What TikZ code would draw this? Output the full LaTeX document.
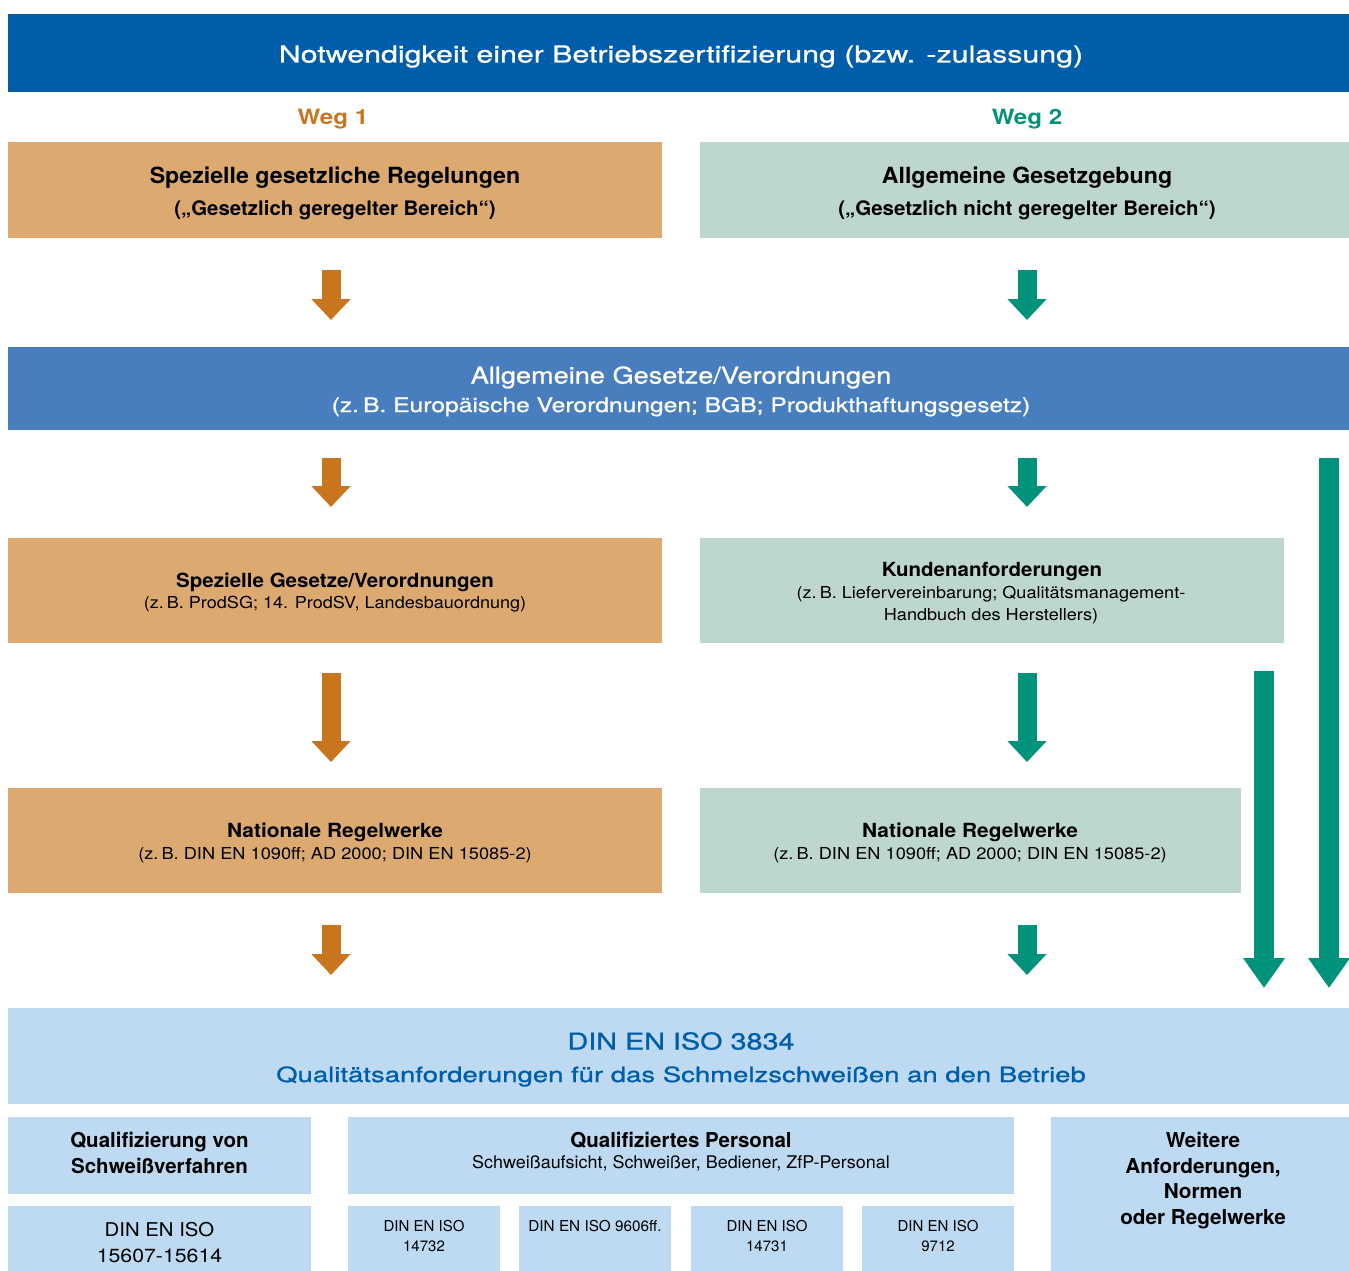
\documentclass[tikz,border=0pt]{standalone}
\usepackage{fontspec}
\usepackage{graphicx}
\setmainfont{TeX Gyre Heros}
\newfontfamily\medfont[FakeBold=0.8]{TeX Gyre Heros}
\usetikzlibrary{arrows.meta}
\definecolor{cTitle}{RGB}{0,93,169}
\definecolor{cOrange}{RGB}{200,117,30}
\definecolor{cOrangeBox}{RGB}{220,170,113}
\definecolor{cGreen}{RGB}{0,146,122}
\definecolor{cGreenBox}{RGB}{190,214,208}
\definecolor{cMid}{RGB}{72,125,190}
\definecolor{cLight}{RGB}{189,218,242}
\definecolor{cDin}{RGB}{0,94,168}
\newcommand{\hs}[2]{\scalebox{#1}[1]{#2}}
\newcommand{\fsz}[1]{\fontsize{#1}{#1}\selectfont}
\begin{document}
\begin{tikzpicture}[x=1pt,y=-1pt,
  box/.style={draw=none,inner sep=0pt,outer sep=0pt,anchor=north west},
  txt/.style={anchor=base,inner sep=0pt,outer sep=0pt,align=center},
  oarrow/.style={draw=cOrange,line width=19pt,-{Triangle[width=38pt,length=21pt]}},
  garrow/.style={draw=cGreen,line width=19pt,-{Triangle[width=38pt,length=21pt]}},
  larrow/.style={draw=cGreen,line width=20pt,-{Triangle[width=40pt,length=30pt]}}
]
\useasboundingbox (0,0) rectangle (1349,1271);
\fill[white] (0,0) rectangle (1349,1271);

% title
\node[box,fill=cTitle,minimum width=1341pt,minimum height=78pt] (T) at (8,14) {};
\node[txt,text=white,font=\medfont\fsz{23.5}] (Tt) at (681,62.5) {\hs{1.29}{Notwendigkeit einer Betriebszertifizierung (bzw. -zulassung)}};
\node[txt,text=cOrange,font=\fsz{21}\bfseries] (W1) at (333,124.5) {\hs{1.15}{Weg 1}};
\node[txt,text=cGreen,font=\fsz{21}\bfseries] (W2) at (1027,124.5) {\hs{1.15}{Weg 2}};

% row 1
\node[box,fill=cOrangeBox,minimum width=654pt,minimum height=96pt] (A1) at (8,142) {};
\node[txt,font=\fsz{22.3}\bfseries] (A1a) at (335,183) {\hs{1.04}{Spezielle gesetzliche Regelungen}};
\node[txt,font=\fsz{20}\bfseries] (A1b) at (335,215) {\hs{1.02}{(„Gesetzlich geregelter Bereich“)}};
\node[box,fill=cGreenBox,minimum width=649pt,minimum height=96pt] (B1) at (700,142) {};
\node[txt,font=\fsz{22.3}\bfseries] (B1a) at (1027,183) {\hs{1.04}{Allgemeine Gesetzgebung}};
\node[txt,font=\fsz{20}\bfseries] (B1b) at (1027,215) {\hs{1.025}{(„Gesetzlich nicht geregelter Bereich“)}};

% middle blue
\node[box,fill=cMid,minimum width=1341pt,minimum height=83pt] (M) at (8,347) {};
\node[txt,text=white,font=\medfont\fsz{23}] (Ma) at (681,383.5) {\hs{1.18}{Allgemeine Gesetze/Verordnungen}};
\node[txt,text=white,font=\medfont\fsz{20}] (Mb) at (681,412) {\hs{1.23}{(z.\,B. Europäische Verordnungen; BGB; Produkthaftungsgesetz)}};

% row 2
\node[box,fill=cOrangeBox,minimum width=654pt,minimum height=105pt] (A2) at (8,538) {};
\node[txt,font=\fsz{19.5}\bfseries] (A2a) at (335,587) {\hs{1.054}{Spezielle Gesetze/Verordnungen}};
\node[txt,font=\fsz{16.5}] (A2b) at (335,608) {\hs{1.094}{(z.\,B. ProdSG; 14. ProdSV, Landesbauordnung)}};
\node[box,fill=cGreenBox,minimum width=584pt,minimum height=105pt] (B2) at (700,538) {};
\node[txt,font=\fsz{19.5}\bfseries] (B2a) at (992,576) {\hs{1.05}{Kundenanforderungen}};
\node[txt,font=\fsz{16.5}] (B2b) at (991,598) {\hs{1.096}{(z.\,B. Liefervereinbarung; Qualitätsmanagement-}};
\node[txt,font=\fsz{16.5}] (B2c) at (991,620) {\hs{1.098}{Handbuch des Herstellers)}};

% row 3
\node[box,fill=cOrangeBox,minimum width=654pt,minimum height=105pt] (A3) at (8,788) {};
\node[txt,font=\fsz{19.5}\bfseries] (A3a) at (335,837) {\hs{1.07}{Nationale Regelwerke}};
\node[txt,font=\fsz{16.5}] (A3b) at (335,859) {\hs{1.104}{(z.\,B. DIN EN 1090ff; AD 2000; DIN EN 15085-2)}};
\node[box,fill=cGreenBox,minimum width=541pt,minimum height=105pt] (B3) at (700,788) {};
\node[txt,font=\fsz{19.5}\bfseries] (B3a) at (970,837) {\hs{1.07}{Nationale Regelwerke}};
\node[txt,font=\fsz{16.5}] (B3b) at (970,859) {\hs{1.104}{(z.\,B. DIN EN 1090ff; AD 2000; DIN EN 15085-2)}};

% DIN EN ISO 3834
\node[box,fill=cLight,minimum width=1341pt,minimum height=96pt] (D) at (8,1008) {};
\node[txt,text=cDin,font=\medfont\fsz{23.2}] (Da) at (681,1049.5) {\hs{1.24}{DIN EN ISO 3834}};
\node[txt,text=cDin,font=\medfont\fsz{21}] (Db) at (681,1082) {\hs{1.31}{Qualitätsanforderungen für das Schmelzschweißen an den Betrieb}};

% bottom row
\node[box,fill=cLight,minimum width=303pt,minimum height=77pt] (Q1) at (8,1117) {};
\node[txt,font=\fsz{20.5}\bfseries] (Q1a) at (159.5,1147) {Qualifizierung von};
\node[txt,font=\fsz{20.5}\bfseries] (Q1b) at (159.5,1173) {Schweißverfahren};
\node[box,fill=cLight,minimum width=666pt,minimum height=77pt] (Q2) at (348,1117) {};
\node[txt,font=\fsz{20.5}\bfseries] (Q2a) at (681,1147) {Qualifiziertes Personal};
\node[txt,font=\fsz{17.5}] (Q2b) at (681,1168) {\hs{1.025}{Schweißaufsicht, Schweißer, Bediener, ZfP-Personal}};
\node[box,fill=cLight,minimum width=298pt,minimum height=154pt] (Q3) at (1051,1117) {};
\node[txt,font=\fsz{20.5}\bfseries] (Q3a) at (1203,1147) {\hs{1.01}{Weitere}};
\node[txt,font=\fsz{20.5}\bfseries] (Q3b) at (1203,1173) {\hs{1.01}{Anforderungen,}};
\node[txt,font=\fsz{20.5}\bfseries] (Q3c) at (1203,1198) {\hs{1.01}{Normen}};
\node[txt,font=\fsz{20.5}\bfseries] (Q3d) at (1203,1224) {\hs{1.01}{oder Regelwerke}};

\node[box,fill=cLight,minimum width=303pt,minimum height=65pt] (N1) at (8,1206) {};
\node[txt,font=\fsz{19}] (N1a) at (159.5,1236) {\hs{1.07}{DIN EN ISO}};
\node[txt,font=\fsz{19}] (N1b) at (159.5,1262) {\hs{1.12}{15607-15614}};
\node[box,fill=cLight,minimum width=152pt,minimum height=65pt] (N2) at (348,1206) {};
\node[txt,font=\fsz{15}] (N2a) at (424,1231.5) {DIN EN ISO};
\node[txt,font=\fsz{15}] (N2b) at (424,1251.5) {14732};
\node[box,fill=cLight,minimum width=152pt,minimum height=65pt] (N3) at (519,1206) {};
\node[txt,font=\fsz{15}] (N3a) at (595,1231.5) {\hs{1.02}{DIN EN ISO 9606ff.}};
\node[box,fill=cLight,minimum width=152pt,minimum height=65pt] (N4) at (691,1206) {};
\node[txt,font=\fsz{15}] (N4a) at (767,1231.5) {DIN EN ISO};
\node[txt,font=\fsz{15}] (N4b) at (767,1251.5) {14731};
\node[box,fill=cLight,minimum width=152pt,minimum height=65pt] (N5) at (862,1206) {};
\node[txt,font=\fsz{15}] (N5a) at (938,1231.5) {DIN EN ISO};
\node[txt,font=\fsz{15}] (N5b) at (938,1251.5) {9712};

% arrow end points
\coordinate (o1s) at (331,270); \coordinate (o1e) at (331,320);
\coordinate (o2s) at (331,458); \coordinate (o2e) at (331,507);
\coordinate (o3s) at (331,673); \coordinate (o3e) at (331,762);
\coordinate (o4s) at (331,925); \coordinate (o4e) at (331,975);
\coordinate (g1s) at (1027,270); \coordinate (g1e) at (1027,320);
\coordinate (g2s) at (1027,458); \coordinate (g2e) at (1027,507);
\coordinate (g3s) at (1027,673); \coordinate (g3e) at (1027,762);
\coordinate (g4s) at (1027,925); \coordinate (g4e) at (1027,975);
\coordinate (l1s) at (1329,458); \coordinate (l1e) at (1329,988);
\coordinate (l2s) at (1264,671); \coordinate (l2e) at (1264,988);

\draw[oarrow] (o1s) -- (o1e);
\draw[oarrow] (o2s) -- (o2e);
\draw[oarrow] (o3s) -- (o3e);
\draw[oarrow] (o4s) -- (o4e);
\draw[garrow] (g1s) -- (g1e);
\draw[garrow] (g2s) -- (g2e);
\draw[garrow] (g3s) -- (g3e);
\draw[garrow] (g4s) -- (g4e);
\draw[larrow] (l1s) -- (l1e);
\draw[larrow] (l2s) -- (l2e);
\end{tikzpicture}
\end{document}
